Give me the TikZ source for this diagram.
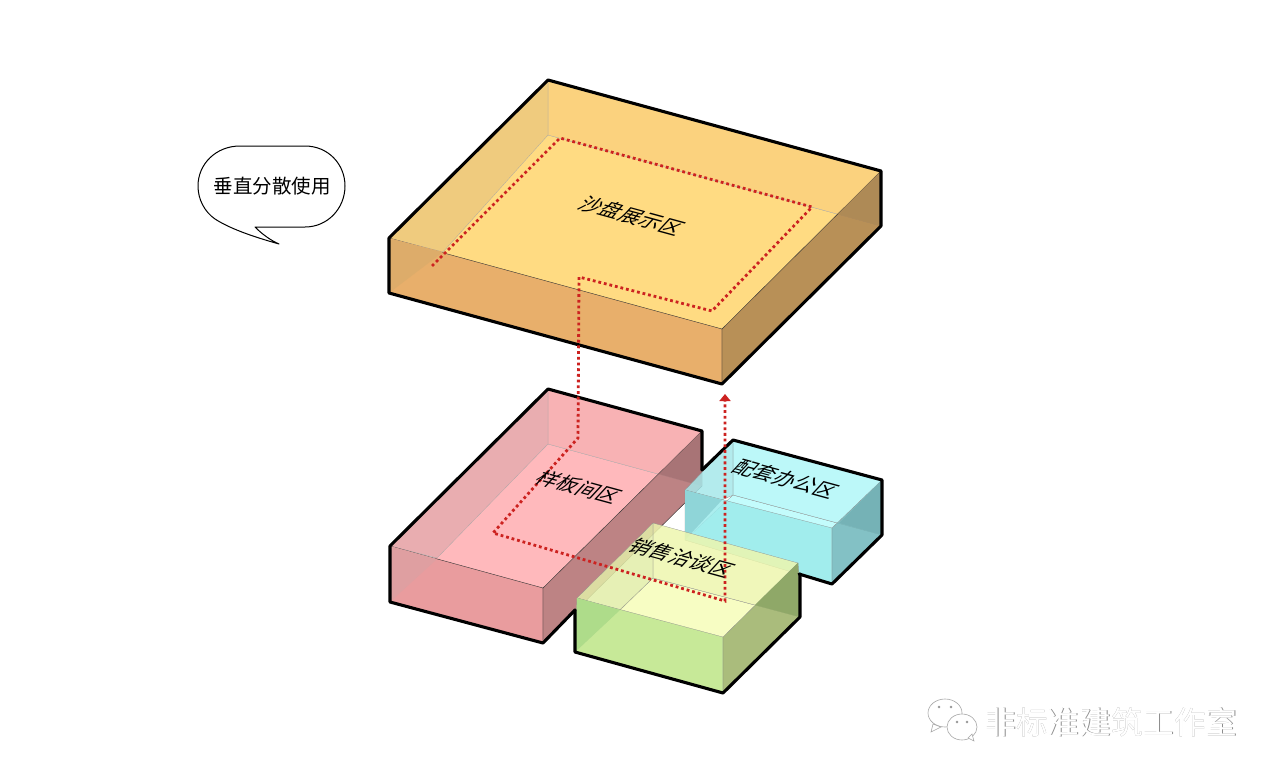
\documentclass[tikz,border=0pt]{standalone}
\usepackage{fontspec}
\newfontfamily\cjk{Noto Sans CJK SC}
\usetikzlibrary{arrows.meta}

\definecolor{orFloor}{HTML}{FFDB82}
\definecolor{orBack}{HTML}{FBD27E}
\definecolor{orLeft}{HTML}{EFCB7E}
\definecolor{orFront}{HTML}{E4A868}
\definecolor{orRight}{HTML}{AC8350}
\definecolor{orShadeL}{HTML}{DDAC6A}
\definecolor{orShadeR}{HTML}{AE8A56}
\definecolor{piFloor}{HTML}{FFB9BC}
\definecolor{piBack}{HTML}{F8B2B4}
\definecolor{piLeft}{HTML}{E9ADB0}
\definecolor{piFront}{HTML}{E69899}
\definecolor{piRight}{HTML}{B27A7B}
\definecolor{piShadeL}{HTML}{DF9FA1}
\definecolor{piShadeR}{HTML}{A87476}
\definecolor{cyFloor}{HTML}{B8FBFB}
\definecolor{cyBack}{HTML}{B0F7F8}
\definecolor{cyLeft}{HTML}{A6E8EA}
\definecolor{cyFront}{HTML}{9CEBEC}
\definecolor{cyRight}{HTML}{78B8BC}
\definecolor{cyShadeL}{HTML}{8FD5D8}
\definecolor{cyShadeR}{HTML}{75B2B6}
\definecolor{grFloor}{HTML}{F6FDB8}
\definecolor{grBack}{HTML}{EDF6AE}
\definecolor{grLeft}{HTML}{E2EDA8}
\definecolor{grFront}{HTML}{BFE592}
\definecolor{grRight}{HTML}{9DB170}
\definecolor{grShadeL}{HTML}{AEDC8A}
\definecolor{grShadeR}{HTML}{8FA868}
\definecolor{routeRed}{HTML}{CC2220}

\tikzset{
  innerface/.style={draw=black!35, line width=0.25pt},
  outerface/.style={draw=black!80, line width=0.4pt, fill opacity=0.85},
  glassface/.style={draw=black!45, line width=0.25pt, fill opacity=0.85},
  outline/.style={line width=3.1pt, line join=round, line cap=round},
  route/.style={routeRed, line width=2.8pt, dash pattern=on 2.8pt off 2.9pt},
  zonelabel/.style={font=\cjk\fontsize{20.5}{20.5}\selectfont, inner sep=0pt, transform shape,
    cm={0.965,-0.264,0.72,0.78,(0,0)}},
  markshadow/.style={font=\cjk\fontsize{31.6}{31.6}\selectfont, text=black!45, inner sep=0pt},
  markfront/.style={font=\cjk\fontsize{31.6}{31.6}\selectfont, text=white, inner sep=0pt},
  markicon/.style={draw=black!35, fill=white, line width=0.6pt}
}

\begin{document}
\begin{tikzpicture}[x=1pt, y=-1pt]
\useasboundingbox (0,0) rectangle (1280,779);

% orange slab
\fill[orFloor, innerface] (548,135) -- (881,226) -- (722,384) -- (389,293) -- cycle;
\fill[orBack, innerface] (548,80) -- (881,171) -- (881,226) -- (548,135) -- cycle;
\fill[orLeft, innerface] (389,238) -- (548,80) -- (548,135) -- (443,252) -- cycle;
\filldraw[fill=orFront, outerface] (389,238) -- (722,329) -- (722,384) -- (389,293) -- cycle;
\filldraw[fill=orRight, outerface] (722,329) -- (881,171) -- (881,226) -- (722,384) -- cycle;
\fill[orShadeL] (389,238) -- (443,252) -- (389,293) -- cycle;
\fill[orShadeR] (881,171) -- (881,226) -- (838,214) -- cycle;
\draw[outline] (389,238) -- (548,80) -- (881,171) -- (881,226) -- (722,384) -- (389,293) -- cycle;

% pink block
\fill[piFloor, innerface] (548,444) -- (702,486) -- (543,643) -- (390,602) -- cycle;
\fill[piBack, innerface] (548,389) -- (702,431) -- (702,486) -- (548,444) -- cycle;
\fill[piLeft, innerface] (390,546) -- (548,389) -- (548,444) -- (437,558) -- cycle;
\filldraw[fill=piFront, outerface] (390,546) -- (543,588) -- (543,643) -- (390,602) -- cycle;
\filldraw[fill=piRight, outerface] (543,588) -- (702,431) -- (702,486) -- (543,643) -- cycle;
\fill[piShadeL] (390,546) -- (437,559) -- (390,602) -- cycle;
\fill[piShadeR] (702,431) -- (702,486) -- (659,474) -- cycle;

% cyan block
\filldraw[fill=cyFloor, glassface] (733,495) -- (882,535) -- (832,584) -- (685,540) -- cycle;
\filldraw[fill=cyBack, glassface] (733,440) -- (882,480) -- (882,535) -- (733,495) -- cycle;
\filldraw[fill=cyLeft, glassface] (685,490) -- (733,440) -- (733,495) -- (722,500) -- cycle;
\filldraw[fill=cyFront, glassface] (685,490) -- (832,528) -- (832,584) -- (685,540) -- cycle;
\filldraw[fill=cyRight, glassface] (832,528) -- (882,480) -- (882,535) -- (832,584) -- cycle;
\fill[cyShadeL] (685,490) -- (722,500) -- (685,540) -- cycle;
\fill[cyShadeR] (882,480) -- (882,535) -- (839,523) -- cycle;

% green block
\filldraw[fill=grFloor, glassface] (653,578) -- (800,617) -- (723,693) -- (575,652) -- cycle;
\filldraw[fill=grBack, glassface] (653,523) -- (798,563) -- (800,617) -- (653,578) -- cycle;
\filldraw[fill=grLeft, glassface] (577,598) -- (653,523) -- (653,578) -- (620,610) -- cycle;
\filldraw[fill=grFront, glassface] (577,598) -- (723,637) -- (723,693) -- (575,652) -- cycle;
\filldraw[fill=grRight, glassface] (723,637) -- (798,563) -- (800,617) -- (723,693) -- cycle;
\fill[grShadeL] (577,598) -- (620,610) -- (575,652) -- cycle;
\fill[grShadeR] (798,563) -- (800,617) -- (755,605) -- cycle;

% outer line of the lower group
\draw[outline] (575,610) -- (543,643) -- (390,602) -- (390,546) -- (548,389) -- (702,431) -- (702,470);
\draw[outline] (702,470) -- (733,440) -- (882,480) -- (882,535) -- (832,584) -- (799,574);
\draw[outline] (800,574) -- (800,617) -- (723,693) -- (575,652) -- (575,610);

% route
\coordinate (rStart) at (432,266);
\coordinate (rA) at (560,138);
\coordinate (rB) at (812,207);
\coordinate (rC) at (712,311);
\coordinate (rD) at (579,277);
\coordinate (rE) at (578,438);
\coordinate (rF) at (493,533);
\coordinate (rG) at (725,601);
\coordinate (rEnd) at (725,394);
\draw[route, -{Triangle[length=7pt, width=11pt]}] (rStart) -- (rA) -- (rB) -- (rC) -- (rD) -- (rE) -- (rF) -- (rG) -- (rEnd);

% zone names
\node[zonelabel] (sand) at (632,216) {沙盘展示区};
\node[zonelabel] (sample) at (579,487) {样板间区};
\node[zonelabel] (office) at (786,479) {配套办公区};
\node[zonelabel] (sales) at (682,558) {销售洽谈区};

% speech bubble
\draw[line width=1pt, line join=round] (255,227) -- (305,227)
  .. controls (328,227) and (345,208) .. (345,186)
  .. controls (345,164) and (328,146) .. (305,146)
  -- (240,146)
  .. controls (216,146) and (198,164) .. (198,186)
  .. controls (198,200) and (205,212) .. (215,219)
  .. controls (232,230) and (258,238) .. (279,244)
  .. controls (270,240) and (262,234) .. (255,227) -- cycle;
\node[font=\cjk\fontsize{19.5}{19.5}\selectfont, inner sep=0pt] (note) at (272,186) {垂直分散使用};

% mark in the corner
\filldraw[markicon] (945,713) ellipse (17 and 14);
\filldraw[markicon] (933,724) -- (931,732) -- (941,727) -- cycle;
\filldraw[markicon] (962,727) ellipse (15 and 13);
\filldraw[markicon] (968,738) -- (974,741) -- (972,734) -- cycle;
\filldraw[black!40] (939,707) circle (1);
\filldraw[black!40] (951,707) circle (1);
\filldraw[black!40] (957,722) circle (1);
\filldraw[black!40] (967,722) circle (1);
\node[markshadow] (markback) at (1111.6,722.6) {非标准建筑工作室};
\node[markfront] (mark) at (1111,722) {非标准建筑工作室};

\end{tikzpicture}
\end{document}
